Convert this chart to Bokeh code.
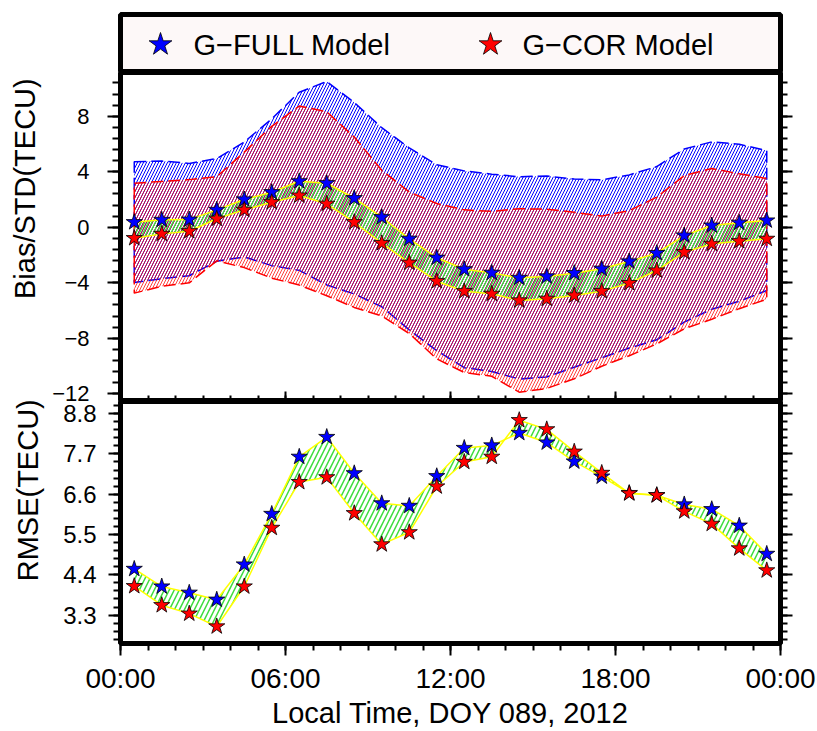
import numpy as np
from bokeh.plotting import figure
from bokeh.models import Range1d, LinearAxis, FixedTicker
from bokeh.layouts import column
from bokeh.embed import file_html
from bokeh.resources import INLINE
from bokeh.core.properties import value

FONT = "Liberation Sans"
NBSP = "\u00a0"

# ---------------- data ----------------
hours = [0.5, 1.5, 2.5, 3.5, 4.5, 5.5, 6.5, 7.5, 8.5, 9.5, 10.5, 11.5,
         12.5, 13.5, 14.5, 15.5, 16.5, 17.5, 18.5, 19.5, 20.5, 21.5, 22.5, 23.5]

bias_full = [0.36, 0.53, 0.55, 1.25, 2.00, 2.52, 3.31, 3.17, 2.09, 0.72, -0.84, -2.20,
             -3.03, -3.29, -3.65, -3.55, -3.31, -3.00, -2.47, -1.87, -0.60, 0.12, 0.32, 0.48]
bias_cor = [-0.79, -0.48, -0.29, 0.61, 1.25, 1.80, 2.28, 1.69, 0.36, -1.15, -2.56, -3.89,
            -4.61, -4.80, -5.28, -5.16, -4.92, -4.61, -4.03, -3.12, -1.80, -1.20, -1.01, -0.84]

std_full = [4.35, 4.24, 4.05, 3.70, 4.14, 5.29, 6.42, 7.33, 6.90, 6.45, 6.56, 6.70,
            7.09, 7.11, 7.29, 7.24, 6.78, 6.41, 6.24, 6.24, 6.24, 6.03, 5.66, 5.04]
std_cor = [3.96, 3.78, 3.72, 3.03, 4.16, 5.47, 6.45, 6.63, 6.14, 5.25, 5.10, 5.60,
           5.86, 5.94, 6.61, 6.46, 6.00, 5.41, 5.23, 5.29, 5.52, 5.43, 4.86, 4.35]

rmse_full = [4.56, 4.08, 3.91, 3.72, 4.68, 6.06, 7.62, 8.16, 7.17, 6.35, 6.28, 7.09,
             7.86, 7.93, 8.27, 8.01, 7.49, 7.08, 6.63, 6.57, 6.32, 6.19, 5.74, 4.97]
rmse_cor = [4.09, 3.57, 3.34, 2.99, 4.08, 5.68, 6.93, 7.06, 6.08, 5.23, 5.56, 6.81,
            7.48, 7.62, 8.62, 8.37, 7.76, 7.18, 6.62, 6.57, 6.13, 5.79, 5.12, 4.52]

x_ticks = [0, 6, 12, 18, 24]
x_tick_labels = ["00:00", "06:00", "12:00", "18:00", "00:00"]
bias_ticks = [-12, -8, -4, 0, 4, 8]
bias_tick_labels = ["\u221212", "\u22128", "\u22124", "0", "4", "8"]
rmse_ticks = [3.3, 4.4, 5.5, 6.6, 7.7, 8.8]
rmse_tick_labels = ["3.3", "4.4", "5.5", "6.6", "7.7", "8.8"]

series_names = ["G\u2212FULL Model", "G\u2212COR Model"]
series_colors = ["blue", "red"]

# ---------------- helpers ----------------
x_minor = list(range(0, 25))
bias_minor = [round(-12 + 0.8 * k, 2) for k in range(31)]
rmse_minor = [round(3.3 + 0.22 * k, 2) for k in range(-4, 28)]


def style_frame(p):
    p.outline_line_color = "black"
    p.outline_line_width = 5
    p.background_fill_color = "white"
    p.border_fill_color = "white"


def tick_axis(ticks, minor, labels=None, tick_out=12, minor_out=7, tick_in=0, minor_in=0,
              font_size="1px", standoff=0):
    ax = LinearAxis(ticker=FixedTicker(ticks=ticks, minor_ticks=minor))
    ax.axis_line_color = None
    ax.major_tick_line_color = "black"
    ax.minor_tick_line_color = "black"
    ax.major_tick_line_width = 2
    ax.minor_tick_line_width = 2
    ax.major_tick_out = tick_out
    ax.major_tick_in = tick_in
    ax.minor_tick_out = minor_out
    ax.minor_tick_in = minor_in
    ax.major_label_text_font = FONT
    ax.major_label_text_font_size = font_size
    ax.major_label_text_color = "black"
    ax.major_label_standoff = standoff
    if labels is None:
        ax.major_label_overrides = {t: "" for t in ticks}
    else:
        ax.major_label_overrides = {t: l for t, l in zip(ticks, labels)}
    return ax


def set_title(ax, text, standoff):
    ax.axis_label = text
    ax.axis_label_text_font = FONT
    ax.axis_label_text_font_size = "29px"
    ax.axis_label_text_font_style = "normal"
    ax.axis_label_text_color = "black"
    ax.axis_label_standoff = standoff


# ---------------- legend ----------------
leg = figure(width=817, height=72, x_range=Range1d(120, 780), y_range=Range1d(72, 14),
             x_axis_type=None, y_axis_type=None, output_backend="svg", toolbar_location=None,
             min_border_left=120, min_border_right=37, min_border_top=14, min_border_bottom=0)
style_frame(leg)
leg.background_fill_color = "#fdf8f8"
leg.scatter([160, 490], [44, 44], marker="star", size=24, fill_color=series_colors,
            line_color="black", line_width=0.8)
leg.text([193, 522], [44, 44], text=series_names, text_font=value(FONT),
         text_font_size="29px", text_baseline="middle", text_color="black")

# ---------------- top panel: Bias / STD ----------------
top = figure(width=817, height=329, x_range=Range1d(0, 24), y_range=Range1d(-12.56, 11.15),
             x_axis_type=None, y_axis_type=None, output_backend="svg", toolbar_location=None,
             min_border_left=120, min_border_right=37, min_border_top=0, min_border_bottom=0)
style_frame(top)

bf = np.array(bias_full); bc = np.array(bias_cor)
sf = np.array(std_full); sc = np.array(std_cor)
xs = list(hours)
xs_loop = xs + xs[::-1]

top.patch(xs_loop, list(bf + sf) + list((bf - sf)[::-1]), fill_color="white", fill_alpha=0,
          hatch_pattern="/", hatch_color="blue", hatch_scale=6, hatch_weight=1.0,
          line_color="blue", line_dash="12 5", line_width=1.5)
top.patch(xs_loop, list(bc + sc) + list((bc - sc)[::-1]), fill_color="white", fill_alpha=0,
          hatch_pattern="/", hatch_color="red", hatch_alpha=0.75, hatch_scale=6, hatch_weight=1.0,
          line_color="red", line_dash="12 5", line_width=1.5)
top.varea(x=xs, y1=bias_full, y2=bias_cor, fill_color="white", fill_alpha=0,
          hatch_pattern="/", hatch_color="#3ddc3d", hatch_scale=7, hatch_weight=1.3)
top.line(xs, bias_full, line_color="yellow", line_width=1.5)
top.line(xs, bias_cor, line_color="yellow", line_width=1.5)
top.scatter(xs, bias_full, marker="star", size=17, fill_color="blue", line_color="black", line_width=0.8)
top.scatter(xs, bias_cor, marker="star", size=17, fill_color="red", line_color="black", line_width=0.8)

top_left = tick_axis(bias_ticks, bias_minor, bias_tick_labels, tick_out=13, minor_out=8,
                     font_size="22px", standoff=18)
# leading no-break spaces lift the centred title toward the top of the panel, as in the original
set_title(top_left, NBSP * 12 + "Bias/STD(TECU)", 8)
top.add_layout(top_left, "left")
top.add_layout(tick_axis(bias_ticks, bias_minor, None, tick_out=12, minor_out=7), "right")
top.add_layout(tick_axis(x_ticks, x_minor, None, tick_out=0, minor_out=0, tick_in=10, minor_in=6), "below")

# ---------------- bottom panel: RMSE ----------------
bot = figure(width=817, height=330, x_range=Range1d(0, 24), y_range=Range1d(2.525, 9.13),
             x_axis_type=None, y_axis_type=None, output_backend="svg", toolbar_location=None,
             min_border_left=120, min_border_right=37, min_border_top=0, min_border_bottom=83)
style_frame(bot)
bot.varea(x=xs, y1=rmse_full, y2=rmse_cor, fill_color="white", fill_alpha=0,
          hatch_pattern="/", hatch_color="#3ddc3d", hatch_scale=10, hatch_weight=1.5)
bot.line(xs, rmse_full, line_color="yellow", line_width=1.5)
bot.line(xs, rmse_cor, line_color="yellow", line_width=1.5)
bot.scatter(xs, rmse_full, marker="star", size=17, fill_color="blue", line_color="black", line_width=0.8)
bot.scatter(xs, rmse_cor, marker="star", size=17, fill_color="red", line_color="black", line_width=0.8)

bot_left = tick_axis(rmse_ticks, rmse_minor, rmse_tick_labels, tick_out=12, minor_out=7,
                     font_size="24px", standoff=12)
set_title(bot_left, NBSP * 8 + "RMSE(TECU)", 16)
bot.add_layout(bot_left, "left")
bot.add_layout(tick_axis(rmse_ticks, rmse_minor, None, tick_out=12, minor_out=7), "right")
bot_below = tick_axis(x_ticks, x_minor, x_tick_labels, tick_out=12, minor_out=7,
                      font_size="28px", standoff=7)
set_title(bot_below, "Local Time, DOY 089, 2012", 0)
bot.add_layout(bot_below, "below")

layout = column(leg, top, bot, spacing=0)
open("out.html", "w").write(file_html(layout, INLINE))
